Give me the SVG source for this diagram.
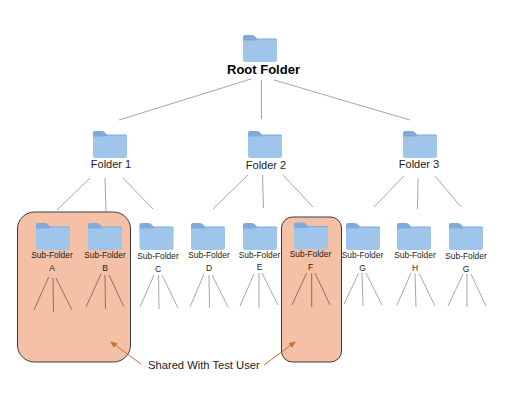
<svg xmlns="http://www.w3.org/2000/svg" xmlns:xlink="http://www.w3.org/1999/xlink" width="506" height="408" viewBox="0 0 506 408">
<style>
text{font-family:"Liberation Sans",Arial,sans-serif;fill:#1a1a1a;text-anchor:middle}
.root{font-size:13px;font-weight:700;fill:#000}
.f{font-size:11px}
.s{font-size:8.400px}
.l{font-size:8.500px}
.note{font-size:11.200px;text-anchor:start}
.c line{stroke:#808080;stroke-width:.7;fill:none}
.c .d line{stroke:#5a4a42}
.hl{fill:#f4c1a6;stroke:#3a3a3a;stroke-width:1}
.ar{stroke:#c4723c;stroke-width:1;fill:none;marker-end:url(#a)}
</style>
<defs>
<marker id="a" markerWidth="7" markerHeight="6" refX="6" refY="3" orient="auto" markerUnits="userSpaceOnUse"><path d="M0 0L7 3L0 6Z" fill="#c4723c"/></marker>
<g id="folder">
<path d="M0 2Q0 0 2 0H9Q11 0 12 1.500L14 3.500H32.500Q34 3.500 34 5V10H0Z" fill="#7faada"/>
<path d="M0 7Q0 5.500 1.500 5.500H12.500L15 4.500H32.500Q34 4.500 34 6V24.500Q34 27 31.500 27H2.500Q0 27 0 24.500Z" fill="#9fc6ea"/>
</g>
</defs>
<rect width="506" height="408" fill="#fff"/>
<g id="highlights">
<rect class="hl" x="17.500" y="212" width="113" height="150" rx="17"/>
<rect class="hl" x="281.500" y="217" width="60" height="145" rx="11"/>
</g>
<g id="connectors" class="c">
<line x1="251" y1="79" x2="119" y2="120"/><line x1="261.500" y1="80" x2="261.500" y2="119"/><line x1="274" y1="80" x2="410" y2="120"/>
<line x1="90" y1="178" x2="57" y2="210"/><line x1="105" y1="178" x2="106" y2="212"/><line x1="123" y1="178" x2="153" y2="209"/>
<line x1="248" y1="175" x2="213" y2="209"/><line x1="262.500" y1="175" x2="263.500" y2="208"/><line x1="283" y1="175" x2="313" y2="207"/>
<line x1="404" y1="176" x2="374" y2="207"/><line x1="418" y1="178" x2="417.500" y2="209"/><line x1="435" y1="176" x2="461" y2="207"/>
<g class="d">
<line x1="48.700" y1="277" x2="34" y2="310"/><line x1="53" y1="278" x2="53.500" y2="312"/><line x1="56" y1="278" x2="72" y2="310"/>
<line x1="101" y1="274" x2="86" y2="307"/><line x1="105" y1="275" x2="105.500" y2="309"/><line x1="109" y1="275" x2="124" y2="307"/>
<line x1="306.700" y1="273" x2="292" y2="305"/><line x1="311.700" y1="273" x2="311.700" y2="307"/><line x1="315" y1="273" x2="330" y2="305"/>
</g>
<line x1="154" y1="275" x2="140" y2="307"/><line x1="158.500" y1="275" x2="159" y2="309"/><line x1="162" y1="275" x2="178" y2="308"/>
<line x1="204" y1="274" x2="190" y2="307"/><line x1="209" y1="275" x2="209.500" y2="308"/><line x1="212" y1="275" x2="228" y2="307"/>
<line x1="254" y1="274" x2="240" y2="306"/><line x1="259" y1="273" x2="259" y2="308"/><line x1="262" y1="273" x2="278" y2="305"/>
<line x1="358.700" y1="273" x2="344" y2="304"/><line x1="362" y1="273" x2="363" y2="306"/><line x1="366" y1="273" x2="382" y2="305"/>
<line x1="411" y1="273" x2="397" y2="305"/><line x1="415" y1="273" x2="416" y2="307"/><line x1="419" y1="273" x2="435" y2="306"/>
<line x1="463" y1="274" x2="448" y2="306"/><line x1="467" y1="274" x2="467" y2="307"/><line x1="471" y1="274" x2="486" y2="306"/>
<path class="ar" d="M141 364L111 342"/><path class="ar" d="M264 365L295 342"/>
</g>
<g id="root"><use href="#folder" xlink:href="#folder" x="243" y="35"/><text class="root" x="263.500" y="74">Root Folder</text></g>
<g id="folder-1"><use href="#folder" xlink:href="#folder" x="93" y="131"/><text class="f" x="111" y="168">Folder 1</text></g>
<g id="folder-2"><use href="#folder" xlink:href="#folder" x="248" y="131"/><text class="f" x="266" y="169">Folder 2</text></g>
<g id="folder-3"><use href="#folder" xlink:href="#folder" x="403" y="131"/><text class="f" x="419" y="168">Folder 3</text></g>
<g id="sub-a"><use href="#folder" xlink:href="#folder" x="36" y="223"/><text class="s" x="52" y="258">Sub-Folder</text><text class="l" x="52" y="271">A</text></g>
<g id="sub-b"><use href="#folder" xlink:href="#folder" x="88" y="223"/><text class="s" x="105" y="258">Sub-Folder</text><text class="l" x="105" y="271">B</text></g>
<g id="sub-c"><use href="#folder" xlink:href="#folder" x="139.500" y="223"/><text class="s" x="158" y="259">Sub-Folder</text><text class="l" x="158" y="272">C</text></g>
<g id="sub-d"><use href="#folder" xlink:href="#folder" x="191" y="223"/><text class="s" x="209" y="258">Sub-Folder</text><text class="l" x="209" y="271">D</text></g>
<g id="sub-e"><use href="#folder" xlink:href="#folder" x="243" y="223"/><text class="s" x="259.500" y="258">Sub-Folder</text><text class="l" x="259.500" y="270">E</text></g>
<g id="sub-f"><use href="#folder" xlink:href="#folder" x="294" y="222.500"/><text class="s" x="310.500" y="257">Sub-Folder</text><text class="l" x="310.500" y="270">F</text></g>
<g id="sub-g"><use href="#folder" xlink:href="#folder" x="346" y="223"/><text class="s" x="362.500" y="258">Sub-Folder</text><text class="l" x="362.500" y="271">G</text></g>
<g id="sub-h"><use href="#folder" xlink:href="#folder" x="397" y="223"/><text class="s" x="415" y="258">Sub-Folder</text><text class="l" x="415" y="271">H</text></g>
<g id="sub-g2"><use href="#folder" xlink:href="#folder" x="449" y="223"/><text class="s" x="466" y="259">Sub-Folder</text><text class="l" x="466" y="272">G</text></g>
<g id="note"><text class="note" x="148" y="369">Shared With Test User</text></g>
</svg>
